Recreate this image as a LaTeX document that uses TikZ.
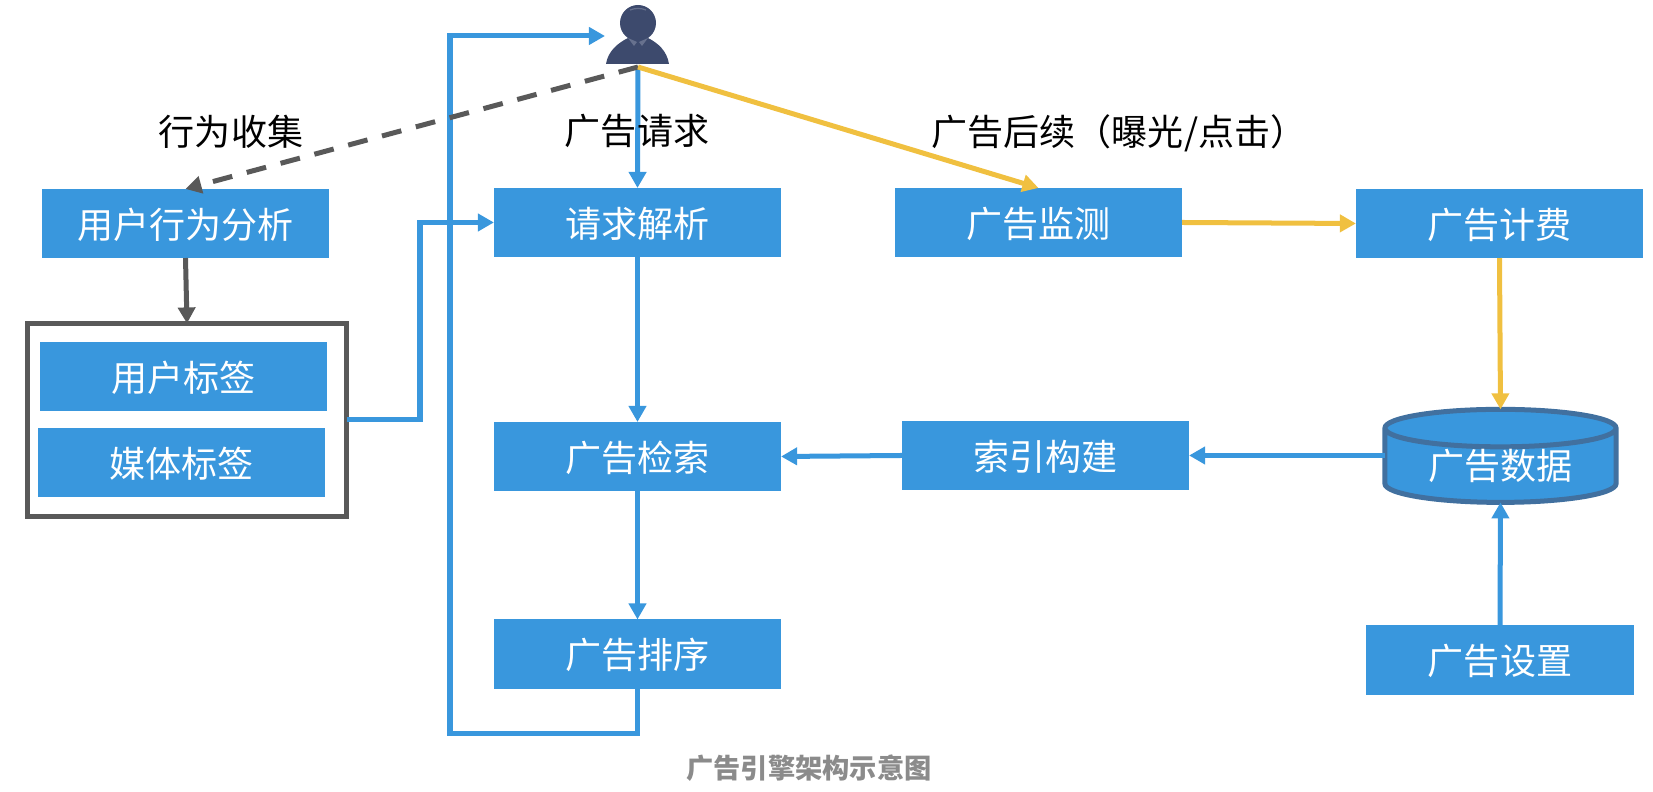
\documentclass[tikz,border=0pt]{standalone}
\usepackage{fontspec}
\setmainfont{Noto Sans CJK SC}
\usepackage{tikz}
\usetikzlibrary{shapes, shapes.geometric, arrows.meta}
\definecolor{adblue}{HTML}{3997DD}
\definecolor{adedge}{HTML}{41709F}
\definecolor{adgray}{HTML}{595959}
\definecolor{adyellow}{HTML}{F0C040}
\definecolor{usercolor}{HTML}{3D4A6D}
\definecolor{usercollar}{HTML}{67718E}
\tikzset{
    adbox/.style={fill=adblue,text=white,minimum width=2.87cm,minimum height=0.69cm,inner sep=0pt,outer sep=0pt,text height=0.32cm,text depth=0.02cm,font=\fontsize{10.25}{12}\selectfont},
    adlabel/.style={text=black,inner sep=0pt,text height=0.32cm,text depth=0.02cm,font=\fontsize{10.25}{12}\selectfont},
    tip/.style={-{Triangle[length=0.16cm,width=0.17cm]}},
    blueline/.style={draw=adblue,line width=0.05cm,tip},
    yellowline/.style={draw=adyellow,line width=0.05cm,tip},
    grayline/.style={draw=adgray,line width=0.05cm,tip}
}
\begin{document}
\begin{tikzpicture}[x=0.01cm,y=-0.01cm]
            \useasboundingbox (0,0) rectangle (1653,792);

            % left column
            \node[adbox] (behavior) at (185.5,223.5) {用户行为分析};
            \node[draw=adgray,line width=0.05cm,fill=white,minimum width=3.19cm,minimum height=1.93cm,inner sep=0pt,outer sep=0pt] (tagframe) at (187,420) {};
            \node[adbox] (usertag) at (183.5,376.5) {用户标签};
            \node[adbox] (mediatag) at (181.5,462.5) {媒体标签};

            % middle column
            \node[adbox] (reqparse) at (637.5,222.5) {请求解析};
            \node[adbox] (adsearch) at (637.5,456.5) {广告检索};
            \node[adbox] (adrank) at (637.5,654) {广告排序};

            % right part
            \node[adbox] (admonitor) at (1038.5,222.5) {广告监测};
            \node[adbox] (adbilling) at (1499.5,223.5) {广告计费};
            \node[adbox] (adindex) at (1045.5,455.5) {索引构建};
            \node[adbox,minimum width=2.68cm,minimum height=0.70cm] (adsetting) at (1500,660) {广告设置};
            \node[cylinder,shape border rotate=90,aspect=0.26,draw=adedge,line width=0.05cm,fill=adblue,text=white,minimum width=2.31cm,minimum height=0.85cm,inner sep=0pt,outer sep=0pt,font=\fontsize{10.25}{12}\selectfont] (addata) at (1500.5,466.5) {\raisebox{0.04cm}{广告数据}};

            % user
            \fill[usercolor] (638,23) circle (18);
            \draw[usercollar,line width=0.012cm] (630,10) .. controls (635,8) and (641,8) .. (646,10);
            \fill[usercolor] (606,64) .. controls (608,51) and (618,43) .. (628,38) -- (648,38) .. controls (658,43) and (667,51) .. (669,64) -- cycle;
            \fill[usercollar] (628,38) -- (637,42) -- (634,46) -- cycle;
            \fill[usercollar] (648,38) -- (639,42) -- (642,46) -- cycle;
            \coordinate (userfoot) at (638,67);
            \coordinate (userleft) at (605,36);

            % connectors
            \coordinate (tagbend) at (420,420);
            \coordinate (loopright) at (637.5,733.5);
            \coordinate (loopleft) at (450,733.5);
            \coordinate (looptop) at (450,36);
            \draw[blueline] (adrank.south) -- (loopright) -- (loopleft) -- (looptop) -- (userleft);
            \draw[blueline] (tagframe.east) -- (tagbend) |- (reqparse.west);
            \draw[blueline] (userfoot) -- (reqparse.north);
            \draw[blueline] (reqparse.south) -- (adsearch.north);
            \draw[blueline] (adsearch.south) -- (adrank.north);
            \draw[blueline] (adindex.west) -- (adsearch.east);
            \draw[blueline] (addata.west |- adindex.east) -- (adindex.east);
            \draw[blueline] (adsetting.north) -- (addata.south);

            \draw[grayline,dash pattern=on 0.2cm off 0.15cm] (userfoot) -- (behavior.north);
            \draw[grayline] (behavior.south) -- (tagframe.north);

            \draw[yellowline] (userfoot) -- (admonitor.north);
            \draw[yellowline] (admonitor.east) -- (adbilling.west);
            \draw[yellowline] (adbilling.south) -- (addata.north);

            % labels
            \node[adlabel] (collectlabel) at (231,131) {行为收集};
            \node[adlabel] (requestlabel) at (637,130) {广告请求};
            \node[adlabel,anchor=west] (followlabel) at (931,131) {广告后续（曝光/点击）};
            \node[text=adgray!70,inner sep=0pt,font=\fontsize{7.75}{10}\selectfont\bfseries] (caption) at (809,768) {广告引擎架构示意图};
\end{tikzpicture}
\end{document}
